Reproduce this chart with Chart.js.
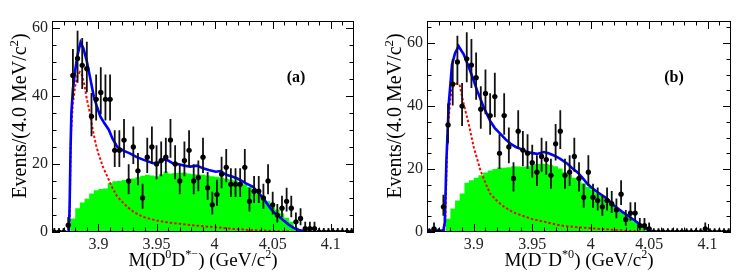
<!DOCTYPE html>
<html><head><meta charset="utf-8">
<script src="https://cdn.jsdelivr.net/npm/chart.js@4.4.0/dist/chart.umd.min.js"></script>
<style>
html,body{margin:0;padding:0;background:#fff;width:749px;height:277px;overflow:hidden}
#wa{position:absolute;left:0;top:0;width:375px;height:277px}
#wb{position:absolute;left:375px;top:0;width:374px;height:277px}
canvas{display:block}
</style></head><body>
<div id="wa"><canvas id="ca" width="375" height="277"></canvas></div>
<div id="wb"><canvas id="cb" width="374" height="277"></canvas></div>
<script>
// ---------- data ----------
const binCenters = [3.862,3.866,3.870,3.874,3.878,3.882,3.886,3.890,3.894,3.898,
  3.902,3.906,3.910,3.914,3.918,3.922,3.926,3.930,3.934,3.938,3.942,3.946,3.950,3.954,3.958,
  3.962,3.966,3.970,3.974,3.978,3.982,3.986,3.990,3.994,3.998,
  4.002,4.006,4.010,4.014,4.018,4.022,4.026,4.030,4.034,4.038,4.042,4.046,4.050,4.054,4.058,
  4.062,4.066,4.070,4.074,4.078,4.082,4.086,4.090,4.094,4.098,
  4.102,4.106,4.110,4.114,4.118];

const countsA = [0,0,0,2,46,51,49,48,34,39,
  41,39,39,24,24,27,15,25,18,10,22,25,20,21,22,
  27,20,15,21,24,15,16,22,13,8,
  11,17,19,14,14,14,19,9,12,12,10,15,8,5,7,
  9,7,3,4,1,1,1,0,0,0,
  0,0,0,0,0];

const greenA = [0,0,0,0,4,7,8.7,9.8,11.3,12.3,
  12.6,12.8,14.3,14.9,15.0,15.3,15.4,15.7,16.1,16.5,16.8,16.6,16.4,17.0,17.8,
  17.2,17.3,17.4,17.5,17.2,17.0,16.9,16.8,16.6,16.4,
  16.2,16.0,15.7,15.4,15.1,14.6,14.0,13.2,12.3,11.3,10.2,9.0,7.8,6.6,5.4,
  4.2,3.0,1.3,0,0,0,0,0,0,0,
  0,0,0,0,0];

const countsB = [0,1,0,8,34,47,54,40,55,53,
  49,39,44,37,43,25,37,27,17,32,26,25,22,19,24,
  23,18,28,32,18,19,24,17,11,19,
  11,10,8,10,9,7,12,4,6,6,2,2,1,0,0,
  0,0,0,0,0,0,0,0,0,1,
  0,0,0,0,0];

const greenB = [0,0,0,0,4.2,7.5,10.0,12.2,15.6,16.4,
  17.2,18.0,18.9,19.5,20.0,20.5,20.4,20.6,20.9,20.8,20.7,20.9,21.2,21.6,21.7,
  21.6,21.3,20.9,20.2,19.0,18.2,17.2,16.4,15.4,14.3,
  13.3,12.3,11.4,10.2,9.0,7.8,6.6,5.6,4.4,3.3,2.3,1.4,0.6,0,0,
  0,0,0,0,0,0,0,0,0,0,
  0,0,0,0,0];

// total fit (blue) and signal (red dashed) curves
const blueAx = [3.860,3.8745,3.8752,3.876,3.8767,3.878,3.880,3.882,3.8846,3.887,3.8897,3.893,3.896,3.899,3.9017,3.905,3.909,3.912,3.916,3.921,3.927,3.933,3.939,3.947,3.952,3.956,3.960,3.964,3.968,3.974,3.979,3.985,3.990,3.995,4.001,4.005,4.010,4.015,4.019,4.023,4.027,4.033,4.038,4.043,4.047,4.051,4.0556,4.060,4.064,4.068,4.0726,4.078,4.082,4.120];
const blueAy = [0,0,8,25,35,42,47.6,52,55.7,54,50.6,45,39.8,36.5,33.9,32,30,27.5,25.1,24,23.1,22,21.2,20.2,20.4,21.3,21.0,20.2,20.0,19.5,19.2,19.5,18.7,18.2,17.7,17.9,16.8,16.3,15.8,15.1,14.3,13.3,11.4,9.4,7.4,5.8,4.5,3.2,2.1,1.2,0.6,0.2,0,0];

const redAx = [3.860,3.874,3.8752,3.8758,3.8765,3.878,3.880,3.882,3.884,3.886,3.888,3.890,3.892,3.894,3.896,3.898,3.900,3.904,3.908,3.912,3.916,3.920,3.925,3.930,3.935,3.940,3.945,3.950,3.960,3.970,3.980,3.990,4.000,4.010,4.020,4.030,4.040,4.050,4.060,4.070,4.080,4.120];
const redAy = [0,0,2,20,30,38,43,46,47,46,43,39,36,32,28.5,25.5,23,19,16,13,10.5,9,7.3,6,5,4.3,3.8,3.4,2.8,2.4,2.0,1.7,1.4,1.1,0.85,0.6,0.45,0.3,0.15,0.05,0,0];

const blueBx = [3.860,3.874,3.8752,3.8766,3.8786,3.8814,3.884,3.887,3.8914,3.894,3.897,3.900,3.903,3.906,3.9086,3.914,3.918,3.923,3.927,3.9315,3.936,3.940,3.944,3.948,3.954,3.960,3.964,3.9686,3.974,3.980,3.984,3.9886,3.993,3.997,4.001,4.0057,4.010,4.014,4.018,4.023,4.027,4.031,4.037,4.043,4.049,4.052,4.056,4.120];
const blueBy = [0.5,0.5,3,22.7,40.6,53.2,56.8,59,56.4,54,51.1,48,44.8,42,39.5,35.3,33,31.1,29.5,28,27,26.4,25.6,25.2,24.8,25.4,25,24.3,23.2,21.7,20.3,19,17.2,15.4,14,12.7,11.6,10.6,9,7.5,6.4,5.4,3.8,2.2,0.85,0.2,0,0];

const redBx = [3.860,3.8745,3.8757,3.8767,3.8777,3.880,3.882,3.884,3.886,3.888,3.8914,3.8957,3.900,3.9057,3.910,3.914,3.920,3.926,3.934,3.943,3.950,3.960,3.970,3.977,3.990,4.000,4.015,4.030,4.045,4.060,4.120];
const redBy = [0,0,3.8,20,32,42.7,46,47,47.2,46.5,40.6,34.3,26.9,19.6,15.5,12.2,9.8,8,6.2,5.0,4.1,3.3,2.4,1.9,1.5,1.2,0.8,0.4,0.15,0,0];

// axes
const xMajorTicks = [3.9,3.95,4.0,4.05,4.1];
const xTickLabels = ['3.9','3.95','4','4.05','4.1'];
const xMinorTicks = [3.87,3.88,3.89,3.91,3.92,3.93,3.94,3.96,3.97,3.98,3.99,4.01,4.02,4.03,4.04,4.06,4.07,4.08,4.09,4.11];
const yMajorTicks = [0,20,40,60];
const yMinorTicksA = [5,10,15,25,30,35,45,50,55];
const yMinorTicksB = [5,10,15,25,30,35,45,50,55,65];

// ---------- drawing ----------
const SERIF = '"Liberation Serif","DejaVu Serif",serif';
function pts(xs, ys){ return xs.map((x,i)=>({x:x, y:ys[i]})); }
function errUp(n){ return n===0 ? 1.2 : Math.sqrt(n)+1; }
function errLo(n){ return n===0 ? 0 : Math.sqrt(n); }

const SUP = 0.64;
function richWidth(ctx, segs, size){
  let w=0;
  segs.forEach(s=>{ ctx.font = (s[1]? (size*SUP).toFixed(1) : size)+'px '+SERIF; w+=ctx.measureText(s[0]).width; });
  return w;
}
function drawRich(ctx, segs, size){ // draws starting at (0,0) baseline, left aligned
  let x=0;
  segs.forEach(s=>{
    ctx.font = (s[1]? (size*SUP).toFixed(1) : size)+'px '+SERIF;
    ctx.fillText(s[0], x, s[1]? -size*0.42 : 0);
    x += ctx.measureText(s[0]).width;
  });
}

const decor = {
  id:'decor',
  beforeDatasetDraw(chart, args, opts){
    if(args.index!==0) return;
    const ctx=chart.ctx, xs=chart.scales.x, ys=chart.scales.y, a=chart.chartArea;
    const counts = opts.counts;
    ctx.save();
    ctx.beginPath(); ctx.rect(a.left, a.top-2, a.right-a.left, a.bottom-a.top+2); ctx.clip();
    ctx.strokeStyle='#111'; ctx.lineWidth=1.8;
    binCenters.forEach((c,i)=>{
      const n=counts[i];
      const px=xs.getPixelForValue(c), py=ys.getPixelForValue(n);
      ctx.beginPath();
      ctx.moveTo(px, ys.getPixelForValue(n-errLo(n)));
      ctx.lineTo(px, ys.getPixelForValue(n+errUp(n)));
      ctx.moveTo(xs.getPixelForValue(c-0.002), py);
      ctx.lineTo(xs.getPixelForValue(c+0.002), py);
      ctx.stroke();
    });
    ctx.restore();
  },
  afterDraw(chart, args, opts){
    const ctx=chart.ctx, xs=chart.scales.x, ys=chart.scales.y, a=chart.chartArea;
    ctx.save();
    ctx.strokeStyle='#000'; ctx.lineWidth=1;
    ctx.strokeRect(a.left+0.5, a.top+0.5, a.right-a.left-1, a.bottom-a.top-1);
    ctx.beginPath();
    const tick=(v,len,isY)=>{
      if(isY){
        const p=Math.round(ys.getPixelForValue(v))+0.5;
        ctx.moveTo(a.left, p); ctx.lineTo(a.left+len, p);
        ctx.moveTo(a.right, p); ctx.lineTo(a.right-len, p);
      } else {
        const p=Math.round(xs.getPixelForValue(v))+0.5;
        ctx.moveTo(p, a.bottom); ctx.lineTo(p, a.bottom-len);
        ctx.moveTo(p, a.top); ctx.lineTo(p, a.top+len);
      }
    };
    yMajorTicks.forEach(v=>tick(v,8,true));
    opts.yMinor.forEach(v=>tick(v,4.5,true));
    xMajorTicks.forEach(v=>tick(v,8,false));
    xMinorTicks.forEach(v=>tick(v,4.5,false));
    ctx.stroke();

    ctx.fillStyle='#000';
    // panel label
    ctx.font='bold 16px '+SERIF; ctx.textAlign='center'; ctx.textBaseline='middle';
    ctx.fillText(opts.label, opts.labelX, 78);
    ctx.textAlign='left'; ctx.textBaseline='alphabetic';
    // x title
    const sx=19;
    const wx=richWidth(ctx, opts.xTitle, sx);
    ctx.save();
    ctx.translate((a.left+a.right)/2 - wx/2, 266);
    drawRich(ctx, opts.xTitle, sx);
    ctx.restore();
    // y title
    const sy=20;
    const wy=richWidth(ctx, opts.yTitle, sy);
    ctx.save();
    ctx.translate(26, 116 + wy/2);
    ctx.rotate(-Math.PI/2);
    drawRich(ctx, opts.yTitle, sy);
    ctx.restore();
    ctx.restore();
  }
};

function makeChart(id, counts, green, bx, by, rx, ry, ymax, yMinor, label, labelX, xTitle, padRight){
  return new Chart(document.getElementById(id), {
    type:'scatter',
    data:{datasets:[
      {type:'scatter', data:pts(binCenters, counts), pointRadius:2.6, pointBackgroundColor:'#000', pointBorderWidth:0, order:0},
      {type:'line', data:pts(bx,by), borderColor:'#0000ff', borderWidth:2.6, pointRadius:0, tension:0, fill:false, order:1},
      {type:'line', data:pts(rx,ry), borderColor:'#ff0000', borderWidth:2, borderDash:[2.5,2], pointRadius:0, tension:0, fill:false, order:2},
      {type:'line', data:pts([3.860].concat(binCenters,[4.120]), [0].concat(green,[0])), stepped:'middle', borderWidth:0, borderColor:'rgba(0,0,0,0)', backgroundColor:'#00ff00', fill:'origin', pointRadius:0, order:3}
    ]},
    options:{
      responsive:false, animation:false, devicePixelRatio:1,
      layout:{padding:{top:21, right:padRight, left:0, bottom:0}},
      plugins:{legend:{display:false}, tooltip:{enabled:false},
        decor:{counts:counts, yMinor:yMinor, label:label, labelX:labelX, xTitle:xTitle,
          yTitle:[['Events/(4.0 MeV/c',0],['2',1],[')',0]]}},
      scales:{
        x:{type:'linear', min:3.86, max:4.12,
          afterBuildTicks:s=>{ s.ticks = xMajorTicks.map(v=>({value:v})); },
          ticks:{callback:(v)=>{ const i=xMajorTicks.findIndex(t=>Math.abs(t-v)<1e-6); return i>=0?xTickLabels[i]:''; },
            font:{family:SERIF, size:16}, color:'#222', padding:3, maxRotation:0, autoSkip:false},
          grid:{display:false, drawTicks:false}, border:{display:false},
          afterFit:s=>{ s.height=45; }},
        y:{min:0, max:ymax,
          afterBuildTicks:s=>{ s.ticks = yMajorTicks.map(v=>({value:v})); },
          ticks:{font:{family:SERIF, size:16}, color:'#222', padding:4},
          grid:{display:false, drawTicks:false}, border:{display:false},
          afterFit:s=>{ s.width=52; }}
      }
    },
    plugins:[decor]
  });
}

makeChart('ca', countsA, greenA, blueAx, blueAy, redAx, redAy, 62, yMinorTicksA, '(a)', 296,
  [['M(D',0],['0',1],['D',0],['*\u2212',1],[') (GeV/c',0],['2',1],[')',0]], 21);
makeChart('cb', countsB, greenB, blueBx, blueBy, redBx, redBy, 67, yMinorTicksB, '(b)', 299,
  [['M(D',0],['\u2212',1],['D',0],['*0',1],[') (GeV/c',0],['2',1],[')',0]], 18);
</script>
</body></html>
